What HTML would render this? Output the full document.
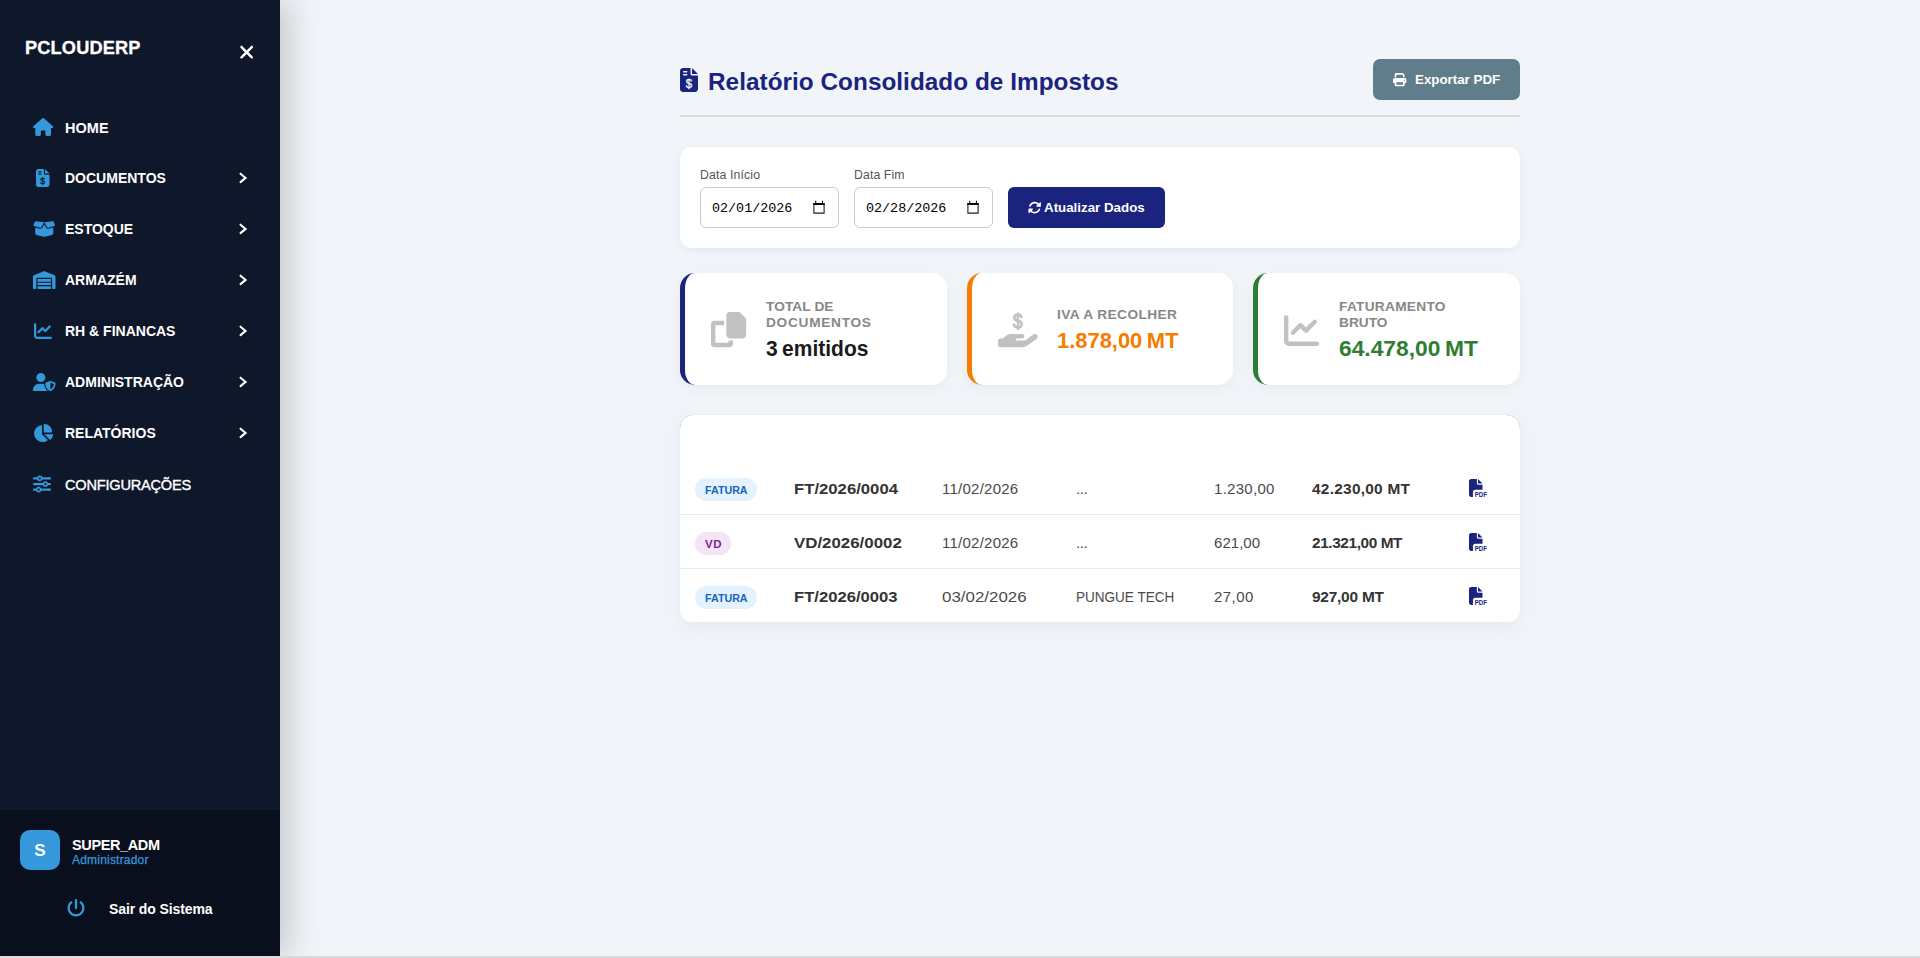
<!DOCTYPE html>
<html lang="pt">
<head>
<meta charset="utf-8">
<title>Relatório Consolidado de Impostos</title>
<style>
*{box-sizing:border-box;margin:0;padding:0}
html,body{width:1920px;height:958px;overflow:hidden}
body{font-family:"Liberation Sans",sans-serif;background:#f1f5f9;color:#222;position:relative}
svg{display:block;overflow:visible}
.abs{position:absolute}
/* sidebar */
#sb{position:absolute;left:0;top:0;width:280px;height:956px;background:#0f172a;box-shadow:10px 0 30px rgba(0,0,0,.18);z-index:5}
#bottomstrip{position:absolute;left:0;top:956px;width:1920px;height:2px;background:#dbdbdb;z-index:6}
.logo{position:absolute;left:25px;top:35.800px;font-weight:700;font-size:18.200px;color:#fff;line-height:24px;white-space:nowrap;-webkit-text-stroke:.3px #fff}
.mi{position:absolute;left:0;width:280px;height:24px;color:#fff;white-space:nowrap}
.mi .ic{position:absolute;top:3px}
.mi .tx{position:absolute;left:65px;top:0;line-height:24px;font-size:14px;font-weight:700}
.mi .ch{position:absolute;left:238px;top:4.600px}
#foot{position:absolute;left:0;top:810px;width:280px;height:146px;background:#0a0f1e}
.av{position:absolute;left:20px;top:20px;width:40px;height:40px;border-radius:10px;background:#3498db;color:#fff;font-weight:700;font-size:17px;line-height:40px;padding-top:1.300px;text-align:center}
.un{position:absolute;left:72px;top:25px;font-size:14.5px;font-weight:700;color:#fff;line-height:20px;white-space:nowrap}
.ur{position:absolute;left:72px;top:43.300px;font-size:12px;color:#3498db;-webkit-text-stroke:.25px #3498db;line-height:14px;white-space:nowrap}
.lo{position:absolute;left:109px;top:89px;font-size:14.5px;font-weight:700;color:#fff;line-height:20px;white-space:nowrap}
/* main */
h1{position:absolute;left:708px;top:63.500px;font-size:24.300px;line-height:36px;font-weight:700;color:#1a237e;white-space:nowrap}
.btn{position:absolute;display:block;border:0;padding:0;margin:0;font-family:inherit;text-align:left;cursor:pointer;border-radius:6px;color:#fff;font-weight:700;font-size:13.333px;white-space:nowrap}
.hr{position:absolute;left:680px;top:115px;width:840px;height:2px;background:#dcdcdc}
.card{position:absolute;background:#fff;box-shadow:0 5px 20px rgba(0,0,0,.05)}
.lbl{position:absolute;font-size:12.300px;color:#555;line-height:14px;white-space:nowrap}
.inp{position:absolute;width:139px;height:41px;border:1px solid #ccc;border-radius:6px;background:#fff;font-family:"Liberation Mono","DejaVu Sans Mono",monospace;font-size:13.400px;line-height:41px;padding-left:11px;color:#000;white-space:nowrap}
.st{position:absolute;top:273px;height:112px;background:#fff;border-radius:15px;border-left:5px solid #000;box-shadow:0 4px 15px rgba(0,0,0,.045)}
.st .l{position:absolute;font-size:13.700px;font-weight:700;letter-spacing:1px;color:#878787;line-height:16px;white-space:nowrap}
.st .v{position:absolute;word-spacing:-1.500px;font-size:21.500px;font-weight:700;line-height:26px;white-space:nowrap}
.row{position:absolute;left:680px;width:840px;height:54px}
.row span{position:absolute;top:0;line-height:54px;font-size:15px;white-space:nowrap;color:#4a4a4a}
.row .b{font-weight:700;color:#333;font-size:15.400px}
.badge{position:absolute;overflow:hidden;left:15px;top:16.200px;height:22.500px;border-radius:12px;font-size:11.500px;font-weight:700;line-height:25px;padding:0 10px;white-space:nowrap}
.sep{position:absolute;left:680px;width:840px;height:1px;background:#ececec}
</style>
</head>
<body>
<aside id="sb">
  <div class="logo" style="letter-spacing:0.164px">PCLOUDERP</div>
  <div class="abs" style="left:238.700px;top:42.100px"><svg viewBox="0 0 384 512" width="15.3" height="20.4" style=""><path fill="#fff" d="M342.6 150.6c12.500-12.500 12.500-32.800 0-45.300s-32.800-12.500-45.300 0L192 210.700 86.600 105.400c-12.500-12.500-32.800-12.500-45.300 0s-12.500 32.800 0 45.300L146.700 256 41.400 361.400c-12.500 12.500-12.500 32.800 0 45.300s32.800 12.500 45.300 0L192 301.300 297.400 406.600c12.500 12.500 32.800 12.500 45.300 0s12.500-32.800 0-45.300L237.300 256 342.600 150.600z"/></svg></div>
  <div class="mi" style="top:115px"><div class="ic" style="left:32.900px"><svg viewBox="0 0 576 512" width="20.25" height="18" style=""><path fill="#3498db" d="M575.800 255.500c0 18-15 32.100-32 32.100h-32l.7 160.200c0 2.700-.2 5.400-.5 8.100V472c0 22.100-17.900 40-40 40H456c-1.100 0-2.200 0-3.300-.1c-1.400 .1-2.800 .1-4.200 .1H416 392c-22.100 0-40-17.900-40-40V448 384c0-17.700-14.300-32-32-32H256c-17.700 0-32 14.300-32 32v64 24c0 22.100-17.900 40-40 40H160 128.100c-1.500 0-3-.1-4.500-.2c-1.200 .1-2.400 .2-3.600 .2H104c-22.100 0-40-17.900-40-40V360c0-.9 0-1.900 .1-2.800V287.600H32c-18 0-32-14-32-32.100c0-9 3-17 10-24L266.400 8c7-7 15-8 22-8s15 2 21 7L564.8 231.400c8 7 12 15 11 24z"/></svg></div><div class="tx" style="letter-spacing:0.033px;top:.700px;font-size:14.500px">HOME</div></div>
  <div class="mi" style="top:166px"><div class="ic" style="left:36.300px"><svg viewBox="0 0 384 512" width="13.5" height="18" style=""><path fill="#3498db" d="M64 0C28.700 0 0 28.700 0 64V448c0 35.300 28.700 64 64 64H320c35.300 0 64-28.700 64-64V160H256c-17.700 0-32-14.300-32-32V0H64zM256 0V128H384L256 0zM64 80c0-8.800 7.200-16 16-16h64c8.800 0 16 7.200 16 16s-7.200 16-16 16H80c-8.800 0-16-7.200-16-16zm0 64c0-8.800 7.200-16 16-16h64c8.800 0 16 7.200 16 16s-7.200 16-16 16H80c-8.800 0-16-7.200-16-16z"/><text x="192" y="432" font-family="Liberation Sans, sans-serif" font-size="284" text-anchor="middle" textLength="136" lengthAdjust="spacingAndGlyphs" fill="#0f172a" stroke="#0f172a" stroke-width="9">$</text></svg></div><div class="tx">DOCUMENTOS</div><div class="ch"><svg width="10" height="14" viewBox="0 0 10 14"><path d="M2.500 2.700 7.600 6.900 2.500 11.100" fill="none" stroke="#fff" stroke-width="2.050" stroke-linecap="round" stroke-linejoin="miter"/></svg></div></div>
  <div class="mi" style="top:217px"><div class="ic" style="left:32.900px"><svg viewBox="0 0 640 512" width="22.5" height="18" style=""><path fill="#3498db" d="M58.900 42.100c3-6.100 9.600-9.600 16.300-8.700L320 64 564.800 33.400c6.700-.8 13.300 2.700 16.300 8.700l41.700 83.400c9 17.900-.6 39.600-19.800 45.100L439.600 217.300c-13.900 4-28.800-1.900-36.200-14.300L320 64 236.600 203c-7.400 12.400-22.300 18.300-36.200 14.300L37.100 170.600c-19.300-5.500-28.800-27.200-19.800-45.100L58.900 42.100zM321.100 128l54.900 91.400c14.900 24.800 44.600 36.600 72.500 28.600L576 211.600v167c0 22-15 41.200-36.400 46.600l-204.100 51c-10.200 2.600-20.900 2.600-31 0l-204.100-51C79 419.700 64 400.500 64 378.500v-167L191.600 248c27.800 8 57.600-3.800 72.500-28.600L318.900 128h2.200z"/></svg></div><div class="tx">ESTOQUE</div><div class="ch"><svg width="10" height="14" viewBox="0 0 10 14"><path d="M2.500 2.700 7.600 6.900 2.500 11.100" fill="none" stroke="#fff" stroke-width="2.050" stroke-linecap="round" stroke-linejoin="miter"/></svg></div></div>
  <div class="mi" style="top:268px"><div class="ic" style="left:32.900px"><svg viewBox="0 0 640 512" width="22.5" height="18" style=""><path fill="#3498db" d="M0 488V171.300c0-26.200 15.900-49.700 40.200-59.400L308.100 4.800c7.600-3.100 16.100-3.100 23.800 0L599.800 111.900c24.300 9.700 40.200 33.300 40.200 59.400V488c0 13.300-10.700 24-24 24H568c-13.300 0-24-10.700-24-24V224c0-17.700-14.300-32-32-32H128c-17.700 0-32 14.300-32 32V488c0 13.300-10.700 24-24 24H24c-13.300 0-24-10.700-24-24zm488 24l-336 0c-13.300 0-24-10.700-24-24V432H512l0 56c0 13.300-10.700 24-24 24zM128 400V336H512v64H128zm0-96V224H512l0 80H128z"/></svg></div><div class="tx">ARMAZÉM</div><div class="ch"><svg width="10" height="14" viewBox="0 0 10 14"><path d="M2.500 2.700 7.600 6.900 2.500 11.100" fill="none" stroke="#fff" stroke-width="2.050" stroke-linecap="round" stroke-linejoin="miter"/></svg></div></div>
  <div class="mi" style="top:319px"><div class="ic" style="left:33.800px"><svg viewBox="0 0 512 512" width="18" height="18" style=""><path fill="#3498db" d="M64 64c0-17.700-14.300-32-32-32S0 46.300 0 64V400c0 44.200 35.800 80 80 80H480c17.700 0 32-14.300 32-32s-14.300-32-32-32H80c-8.800 0-16-7.200-16-16V64zm406.600 86.600c12.500-12.500 12.500-32.800 0-45.300s-32.800-12.500-45.300 0L320 210.700l-57.400-57.400c-12.500-12.500-32.800-12.500-45.300 0l-112 112c-12.500 12.500-12.500 32.800 0 45.300s32.800 12.500 45.300 0L240 221.300l57.400 57.400c12.500 12.500 32.800 12.500 45.300 0l128-128z"/></svg></div><div class="tx">RH &amp; FINANCAS</div><div class="ch"><svg width="10" height="14" viewBox="0 0 10 14"><path d="M2.500 2.700 7.600 6.900 2.500 11.100" fill="none" stroke="#fff" stroke-width="2.050" stroke-linecap="round" stroke-linejoin="miter"/></svg></div></div>
  <div class="mi" style="top:370px"><div class="ic" style="left:32.900px"><svg viewBox="0 0 640 512" width="22.5" height="18" style=""><path fill="#3498db" d="M224 256A128 128 0 1 0 224 0a128 128 0 1 0 0 256zm-45.700 48C79.800 304 0 383.800 0 482.300C0 498.700 13.300 512 29.700 512H418.300c1.800 0 3.500-.2 5.300-.5c-76.300-55.100-99.800-141-103.100-200.200c-16.100-4.800-33.100-7.300-50.700-7.300H178.300zm308.800-78.300l-120 48C358 277.400 352 286.200 352 296c0 63.300 25.900 168.800 134.800 214.200c5.900 2.500 12.600 2.500 18.500 0C614.100 464.800 640 359.300 640 296c0-9.800-6-18.600-15.100-22.300l-120-48c-5.700-2.300-12.100-2.300-17.800 0zM591.400 312c-3.900 50.700-27.200 116.700-95.400 149.700V273.800L591.400 312z"/></svg></div><div class="tx">ADMINISTRAÇÃO</div><div class="ch"><svg width="10" height="14" viewBox="0 0 10 14"><path d="M2.500 2.700 7.600 6.900 2.500 11.100" fill="none" stroke="#fff" stroke-width="2.050" stroke-linecap="round" stroke-linejoin="miter"/></svg></div></div>
  <div class="mi" style="top:421px"><div class="ic" style="left:32.900px"><svg viewBox="0 0 576 512" width="20.25" height="18" style=""><path fill="#3498db" d="M304 240V16.600c0-9 7-16.600 16-16.600C443.700 0 544 100.300 544 224c0 9-7.600 16-16.600 16H304zM32 272C32 150.700 122.100 50.300 239 34.300c9.200-1.300 17 6.100 17 15.400V288L412.500 444.500c6.700 6.700 6.200 17.700-1.500 23.100C371.800 495.600 323.800 512 272 512C139.500 512 32 404.600 32 272zm526.400 16c9.300 0 16.600 7.800 15.400 17c-7.700 55.900-34.600 105.600-73.900 142.300c-6 5.600-15.400 5.200-21.200-.7L320 288H558.400z"/></svg></div><div class="tx">RELATÓRIOS</div><div class="ch"><svg width="10" height="14" viewBox="0 0 10 14"><path d="M2.500 2.700 7.600 6.900 2.500 11.100" fill="none" stroke="#fff" stroke-width="2.050" stroke-linecap="round" stroke-linejoin="miter"/></svg></div></div>
  <div class="mi" style="top:473px"><div class="ic" style="left:32.900px;top:2px"><svg viewBox="0 0 512 512" width="18" height="18" style=""><path fill="#3498db" d="M0 416c0 17.700 14.300 32 32 32l54.700 0c12.300 28.300 40.500 48 73.300 48s61-19.700 73.300-48L480 448c17.700 0 32-14.300 32-32s-14.300-32-32-32l-246.700 0c-12.300-28.300-40.500-48-73.300-48s-61 19.700-73.300 48L32 384c-17.700 0-32 14.300-32 32zm128 0a32 32 0 1 1 64 0 32 32 0 1 1 -64 0zM320 256a32 32 0 1 1 64 0 32 32 0 1 1 -64 0zm32-80c-32.800 0-61 19.700-73.300 48L32 224c-17.700 0-32 14.300-32 32s14.300 32 32 32l246.700 0c12.300 28.300 40.500 48 73.300 48s61-19.700 73.300-48l54.700 0c17.700 0 32-14.300 32-32s-14.300-32-32-32l-54.700 0c-12.300-28.300-40.500-48-73.300-48zM192 128a32 32 0 1 1 0-64 32 32 0 1 1 0 64zm73.300-64C253 35.700 224.800 16 192 16s-61 19.700-73.300 48L32 64C14.300 64 0 78.300 0 96s14.300 32 32 32l86.700 0c12.300 28.300 40.500 48 73.300 48s61-19.700 73.300-48L480 128c17.700 0 32-14.300 32-32s-14.300-32-32-32L265.300 64z"/></svg></div><div class="tx" style="letter-spacing:-0.227px;font-weight:400;font-size:14.600px;-webkit-text-stroke:.35px #fff">CONFIGURAÇÕES</div></div>
  <div id="foot">
    <div class="av">S</div>
    <div class="un" style="letter-spacing:-0.381px">SUPER_ADM</div>
    <div class="ur" style="letter-spacing:0.206px">Administrador</div>
    <div class="abs" style="left:67.200px;top:88.700px"><svg viewBox="0 0 512 512" width="18" height="18" style=""><path fill="#3498db" d="M288 32c0-17.700-14.300-32-32-32s-32 14.300-32 32V256c0 17.700 14.300 32 32 32s32-14.300 32-32V32zM143.500 120.600c13.600-11.300 15.400-31.500 4.100-45.100s-31.500-15.400-45.100-4.100C49.700 115.400 16 181.800 16 256c0 132.500 107.500 240 240 240s240-107.500 240-240c0-74.200-33.800-140.600-86.600-184.600c-13.600-11.300-33.800-9.400-45.100 4.100s-9.400 33.800 4.100 45.100c38.900 32.300 63.500 81 63.500 135.400c0 97.200-78.800 176-176 176s-176-78.800-176-176c0-54.400 24.700-103.100 63.500-135.400z"/></svg></div>
    <div class="lo" style="letter-spacing:-0.110px;font-size:14px">Sair do Sistema</div>
  </div>
</aside>
<div id="bottomstrip"></div>

<h1 style="letter-spacing:0.046px">Relatório Consolidado de Impostos</h1>
<div class="hr"></div>

<div class="abs" style="left:680px;top:68px"><svg viewBox="0 0 384 512" width="18" height="24" style=""><path fill="#1a237e" d="M64 0C28.700 0 0 28.700 0 64V448c0 35.300 28.700 64 64 64H320c35.300 0 64-28.700 64-64V160H256c-17.700 0-32-14.300-32-32V0H64zM256 0V128H384L256 0zM64 80c0-8.800 7.200-16 16-16h64c8.800 0 16 7.200 16 16s-7.200 16-16 16H80c-8.800 0-16-7.200-16-16zm0 64c0-8.800 7.200-16 16-16h64c8.800 0 16 7.200 16 16s-7.200 16-16 16H80c-8.800 0-16-7.200-16-16z"/><text x="192" y="432" font-family="Liberation Sans, sans-serif" font-size="284" text-anchor="middle" textLength="136" lengthAdjust="spacingAndGlyphs" fill="#f1f5f9" stroke="#f1f5f9" stroke-width="9">$</text></svg></div>
<button type="button" class="btn" style="left:1373px;top:59px;width:147px;height:41px;background:#607d8b;border-radius:7px">
  <span class="abs" style="left:20.300px;top:14px"><svg viewBox="0 0 512 512" width="13.33" height="13.33" style=""><path fill="#fff" d="M128 0C92.700 0 64 28.700 64 64v96h64V64H354.700L384 93.300V160h64V93.300c0-17-6.700-33.300-18.700-45.300L400 18.700C388 6.700 371.700 0 354.700 0H128zM384 352v32 64H128V384 368 352H384zm64 32h32c17.700 0 32-14.300 32-32V256c0-35.300-28.700-64-64-64H64c-35.300 0-64 28.700-64 64v96c0 17.700 14.300 32 32 32H64v64c0 35.300 28.700 64 64 64H384c35.300 0 64-28.700 64-64V384zM432 248a24 24 0 1 1 0 48 24 24 0 1 1 0-48z"/></svg></span>
  <span class="abs" style="left:42px;top:0;line-height:41px">Exportar PDF</span>
</button>

<div class="card" style="left:680px;top:147px;width:840px;height:101px;border-radius:12px;box-shadow:0 2px 10px rgba(0,0,0,.06)"></div>
<div class="lbl" style="letter-spacing:0.120px;left:700px;top:168px">Data Início</div>
<div class="lbl" style="letter-spacing:0.087px;left:854px;top:168px">Data Fim</div>
<div class="inp" style="left:700px;top:187px">02/01/2026<svg class="abs" style="left:112px;top:12px" width="12" height="14" viewBox="0 0 12 14"><path fill="none" stroke="#222" stroke-width="1.100" d="M.9 3.500h10.200v9.650H.9z"/><path fill="#000" d="M.35 3h11.300v2H.35zM2.200.8h1.050V3H2.200zM8.900.8h1.050V3H8.900z"/></svg></div>
<div class="inp" style="left:854px;top:187px">02/28/2026<svg class="abs" style="left:112px;top:12px" width="12" height="14" viewBox="0 0 12 14"><path fill="none" stroke="#222" stroke-width="1.100" d="M.9 3.500h10.200v9.650H.9z"/><path fill="#000" d="M.35 3h11.300v2H.35zM2.200.8h1.050V3H2.200zM8.900.8h1.050V3H8.900z"/></svg></div>
<button type="button" class="btn" style="left:1008px;top:187px;width:157px;height:41px;background:#1a237e">
  <span class="abs" style="left:20px;top:14px"><svg viewBox="0 0 512 512" width="13.33" height="13.33" style=""><path fill="#fff" d="M142.900 142.900c62.200-62.200 162.700-62.500 225.300-1L327 183c-6.900 6.900-8.900 17.200-5.200 26.200s12.500 14.800 22.200 14.800H463.500c0 0 0 0 0 0H472c13.300 0 24-10.700 24-24V72c0-9.700-5.800-18.500-14.800-22.200s-19.300-1.700-26.200 5.200L413.400 96.600c-87.600-86.500-228.700-86.200-315.800 1C73.200 122 55.600 150.700 44.800 181.400c-5.900 16.700 2.900 34.900 19.500 40.800s34.900-2.900 40.800-19.500c7.700-21.800 20.200-42.300 37.800-59.800zM16 312v7.600 .7V440c0 9.700 5.800 18.500 14.800 22.200s19.300 1.700 26.200-5.200l41.600-41.600c87.600 86.500 228.700 86.200 315.800-1c24.400-24.400 42.100-53.100 52.900-83.700c5.900-16.700-2.900-34.900-19.500-40.800s-34.900 2.900-40.800 19.500c-7.700 21.800-20.200 42.300-37.800 59.800c-62.200 62.200-162.700 62.500-225.300 1L185 329c6.900-6.900 8.900-17.200 5.200-26.200s-12.500-14.800-22.200-14.800H48.400h-.7H40c-13.300 0-24 10.700-24 24z"/></svg></span>
  <span class="abs" style="left:36px;top:0;line-height:41px">Atualizar Dados</span>
</button>

<div class="st" style="left:680px;width:267px;border-left-color:#1a237e">
  <div class="abs" style="left:26px;top:39px"><svg viewBox="0 0 512 512" width="35.2" height="35.2" style=""><path fill="#c1c1c1" d="M272 0H396.100c12.700 0 24.900 5.100 33.900 14.100l67.900 67.900c9 9 14.100 21.200 14.100 33.900V336c0 26.500-21.500 48-48 48H272c-26.500 0-48-21.500-48-48V48c0-26.500 21.500-48 48-48zM48 128H192v64H64V448H256V416h64v48c0 26.500-21.500 48-48 48H48c-26.500 0-48-21.500-48-48V176c0-26.500 21.500-48 48-48z"/></svg></div>
  <div class="l" style="left:81px;top:25.700px"><span style="letter-spacing:0.083px">TOTAL DE</span><br><span style="letter-spacing:0.710px">DOCUMENTOS</span></div>
  <div class="v" style="transform:scaleX(0.9776);transform-origin:0 50%;left:81px;top:63px;color:#1a1a1a">3 emitidos</div>
</div>
<div class="st" style="left:967px;width:266px;border-left-color:#f57c00">
  <div class="abs" style="left:25.600px;top:38.700px"><svg viewBox="0 0 576 512" width="39.6" height="35.2" style=""><path fill="#c1c1c1" d="M568.200 336.300c13.100 17.800 9.300 42.800-8.500 55.900L433.100 485.500c-23.400 17.200-51.600 26.500-80.700 26.500H192 32c-17.700 0-32-14.300-32-32V416c0-17.700 14.300-32 32-32H68.800l44.900-36c22.700-18.200 50.900-28 80-28H272h16 64c17.700 0 32 14.300 32 32s-14.300 32-32 32H288 272c-8.800 0-16 7.200-16 16s7.200 16 16 16H392.600l119.700-88.200c17.800-13.100 42.800-9.300 55.900 8.500z"/><text x="288" y="230" font-family="Liberation Sans, sans-serif" font-size="300" text-anchor="middle" textLength="138" lengthAdjust="spacingAndGlyphs" fill="#c1c1c1" stroke="#c1c1c1" stroke-width="18">$</text></svg></div>
  <div class="l" style="letter-spacing:0.417px;left:85px;top:33.500px">IVA A RECOLHER</div>
  <div class="v" style="transform:scaleX(1.0191);transform-origin:0 50%;left:85px;top:55px;color:#f57c00">1.878,00 MT</div>
</div>
<div class="st" style="left:1253px;width:267px;border-left-color:#2e7d32">
  <div class="abs" style="left:26.400px;top:39.500px"><svg viewBox="0 0 512 512" width="35.2" height="35.2" style=""><path fill="#c1c1c1" d="M64 64c0-17.700-14.300-32-32-32S0 46.300 0 64V400c0 44.200 35.800 80 80 80H480c17.700 0 32-14.300 32-32s-14.300-32-32-32H80c-8.800 0-16-7.200-16-16V64zm406.600 86.600c12.500-12.500 12.500-32.800 0-45.300s-32.800-12.500-45.300 0L320 210.700l-57.400-57.400c-12.500-12.500-32.800-12.500-45.300 0l-112 112c-12.500 12.500-12.500 32.800 0 45.300s32.800 12.500 45.300 0L240 221.300l57.400 57.400c12.500 12.500 32.800 12.500 45.300 0l128-128z"/></svg></div>
  <div class="l" style="left:81px;top:25.700px"><span style="letter-spacing:0.283px">FATURAMENTO</span><br><span style="letter-spacing:0.020px">BRUTO</span></div>
  <div class="v" style="transform:scaleX(1.0597);transform-origin:0 50%;left:81px;top:63px;color:#2e7d32">64.478,00 MT</div>
</div>

<div class="card" style="left:680px;top:415px;width:840px;height:207px;border-radius:12px"></div>
<svg class="abs" style="left:680px;top:415px" width="840" height="14" viewBox="0 0 840 14"><path d="M.3 12.500A12.200 12.200 0 0 1 12.500.3M827.500.3A12.200 12.200 0 0 1 839.700 12.500" fill="none" stroke="#1a237e" stroke-opacity=".32" stroke-width=".8" stroke-dasharray="1.400 .9"/></svg>
<div class="sep" style="top:514px"></div>
<div class="sep" style="top:568px"></div>
<div class="row" style="top:462px"><div class="badge" style="width:61.800px;background:#e3f2fd;color:#1565c0"><span style="transform:scaleX(0.9305);transform-origin:0 50%;position:static;display:inline-block;font-size:inherit;color:inherit;line-height:inherit">FATURA</span></div><span class="b" style="transform:scaleX(1.0851);transform-origin:0 50%;left:114px">FT/2026/0004</span><span style="letter-spacing:0.248px;left:262px">11/02/2026</span><span style="letter-spacing:-0.358px;left:396px">...</span><span style="letter-spacing:0.287px;left:534px">1.230,00</span><span class="b" style="letter-spacing:0.276px;left:632px">42.230,00 MT</span><div class="abs" style="left:788.800px;top:16.900px"><svg viewBox="0 0 512 512" width="18" height="18" style=""><path fill="#1a237e" d="M0 64C0 28.700 28.700 0 64 0H224V128c0 17.700 14.300 32 32 32H384V304H176c-35.300 0-64 28.700-64 64V512H64c-35.300 0-64-28.700-64-64V64zm384 64H256V0L384 128z"/><text x="164" y="511" font-family="Liberation Sans, sans-serif" font-weight="700" font-size="222" fill="#1a237e" textLength="350" lengthAdjust="spacingAndGlyphs">PDF</text></svg></div></div>
<div class="row" style="top:516px"><div class="badge" style="width:35.900px;background:#f3e5f5;color:#7b1fa2"><span style="letter-spacing:0.616px;position:static;font-size:inherit;color:inherit;line-height:inherit">VD</span></div><span class="b" style="transform:scaleX(1.0953);transform-origin:0 50%;left:114px">VD/2026/0002</span><span style="letter-spacing:0.248px;left:262px">11/02/2026</span><span style="letter-spacing:-0.358px;left:396px">...</span><span style="letter-spacing:0.042px;left:534px">621,00</span><span class="b" style="letter-spacing:-0.406px;left:632px">21.321,00 MT</span><div class="abs" style="left:788.800px;top:16.900px"><svg viewBox="0 0 512 512" width="18" height="18" style=""><path fill="#1a237e" d="M0 64C0 28.700 28.700 0 64 0H224V128c0 17.700 14.300 32 32 32H384V304H176c-35.300 0-64 28.700-64 64V512H64c-35.300 0-64-28.700-64-64V64zm384 64H256V0L384 128z"/><text x="164" y="511" font-family="Liberation Sans, sans-serif" font-weight="700" font-size="222" fill="#1a237e" textLength="350" lengthAdjust="spacingAndGlyphs">PDF</text></svg></div></div>
<div class="row" style="top:570px"><div class="badge" style="width:61.800px;background:#e3f2fd;color:#1565c0"><span style="transform:scaleX(0.9305);transform-origin:0 50%;position:static;display:inline-block;font-size:inherit;color:inherit;line-height:inherit">FATURA</span></div><span class="b" style="transform:scaleX(1.0799);transform-origin:0 50%;left:114px">FT/2026/0003</span><span style="transform:scaleX(1.1282);transform-origin:0 50%;left:262px">03/02/2026</span><span style="transform:scaleX(0.9017);transform-origin:0 50%;left:396px">PUNGUE TECH</span><span style="letter-spacing:0.438px;left:534px">27,00</span><span class="b" style="letter-spacing:-0.210px;left:632px">927,00 MT</span><div class="abs" style="left:788.800px;top:16.900px"><svg viewBox="0 0 512 512" width="18" height="18" style=""><path fill="#1a237e" d="M0 64C0 28.700 28.700 0 64 0H224V128c0 17.700 14.300 32 32 32H384V304H176c-35.300 0-64 28.700-64 64V512H64c-35.300 0-64-28.700-64-64V64zm384 64H256V0L384 128z"/><text x="164" y="511" font-family="Liberation Sans, sans-serif" font-weight="700" font-size="222" fill="#1a237e" textLength="350" lengthAdjust="spacingAndGlyphs">PDF</text></svg></div></div>

</body>
</html>
